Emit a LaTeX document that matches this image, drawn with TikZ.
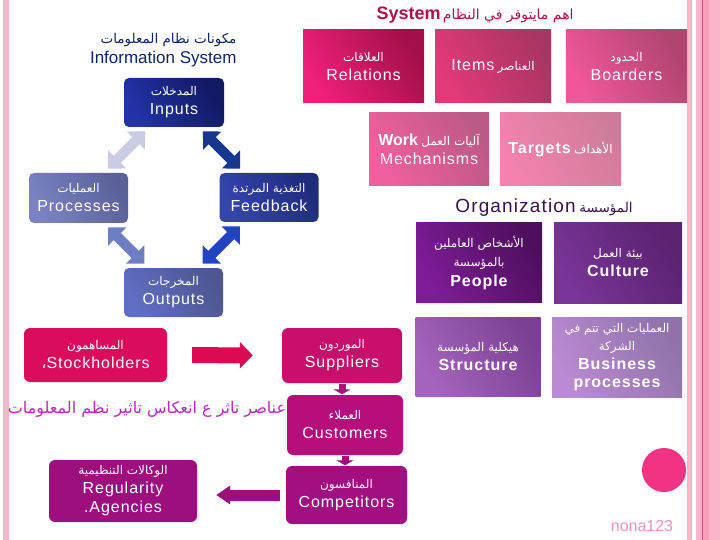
\documentclass[tikz,border=0pt]{standalone}
\usepackage{fontspec}
\setmainfont{Liberation Sans}
\newfontfamily\arfont[Script=Arabic]{DejaVu Sans}
\newfontfamily\enfont[LetterSpace=6]{Liberation Sans}
\TeXXeTstate=1
\usetikzlibrary{arrows.meta}
\newcommand\AR[1]{\mbox{\arfont\beginR #1\endR}}
\newcommand\EN[1]{{\enfont\fontsize{16}{19}\selectfont #1}}
\newcommand\ENB[1]{{\enfont\bfseries\fontsize{16}{19}\selectfont #1}}
\definecolor{stripe}{HTML}{FBB4C9}
\definecolor{stripedark}{HTML}{D0507E}
\definecolor{navytxt}{HTML}{0D2566}
\definecolor{crimsontxt}{HTML}{B0104E}
\definecolor{orgtxt}{HTML}{3A1050}
\definecolor{magtxt}{HTML}{B828C0}
\definecolor{nonatxt}{HTML}{E596B8}
\definecolor{dotpink}{HTML}{F23282}
\definecolor{arrLight}{HTML}{C9CCE2}
\definecolor{arrNavy}{HTML}{16378F}
\definecolor{arrMid}{HTML}{6E7EC2}
\definecolor{arrBlue}{HTML}{2244C4}
\definecolor{redarr}{HTML}{DC0A55}
\definecolor{magarr}{HTML}{B0107A}
\definecolor{purparr}{HTML}{9C0F7C}
\definecolor{relA}{HTML}{F0207A}\definecolor{relB}{HTML}{A31049}
\definecolor{itA}{HTML}{E23A78}\definecolor{itB}{HTML}{A93563}
\definecolor{boA}{HTML}{F0579A}\definecolor{boB}{HTML}{B0456F}
\definecolor{woA}{HTML}{F0609E}\definecolor{woB}{HTML}{BC5A86}
\definecolor{taA}{HTML}{F383AE}\definecolor{taB}{HTML}{CF7C9C}
\definecolor{peA}{HTML}{7E1C98}\definecolor{peB}{HTML}{4E0F5E}
\definecolor{cuA}{HTML}{7A3598}\definecolor{cuB}{HTML}{5A2270}
\definecolor{stA}{HTML}{A564BE}\definecolor{stB}{HTML}{7A4192}
\definecolor{buA}{HTML}{BA8AD2}\definecolor{buB}{HTML}{9173AA}
\definecolor{inA}{HTML}{2233A8}\definecolor{inB}{HTML}{111A62}
\definecolor{prA}{HTML}{7A82C2}\definecolor{prB}{HTML}{5A6198}
\definecolor{fbA}{HTML}{3545AC}\definecolor{fbB}{HTML}{1F2C7C}
\definecolor{ouA}{HTML}{5F6EC4}\definecolor{ouB}{HTML}{4E5790}
\definecolor{stockc}{HTML}{DC0C5C}
\definecolor{suppc}{HTML}{C90F6C}
\definecolor{custc}{HTML}{B60E7B}
\definecolor{compc}{HTML}{A20F80}
\definecolor{regc}{HTML}{9E0F7E}
\begin{document}
\begin{tikzpicture}[x=1pt,y=-1pt,
  box/.style={draw=none, align=center, text=white, inner sep=2pt,
    font=\fontsize{12}{19}\selectfont},
  gbox/.style n args={4}{box, minimum width=#1, minimum height=#2,
    left color=#3, right color=#4, shading angle=120},
  rbox/.style n args={4}{box, rounded corners=5pt, minimum width=#1, minimum height=#2,
    left color=#3, right color=#4, shading angle=120},
  fbox/.style n args={3}{box, rounded corners=6pt, minimum width=#1, minimum height=#2, fill=#3},
  dblarr/.style={line width=10pt, {Triangle[width=25pt,length=13pt]}-{Triangle[width=25pt,length=13pt]}},
]
\useasboundingbox (0,0) rectangle (720,540);
\fill[white] (0,0) rectangle (720,540);
% side stripes
\fill[stripe] (3,0) rectangle (9,540);
\fill[stripe] (687,0) rectangle (692,540);
\fill[stripe] (696,0) rectangle (720,540);
\fill[stripe!80!stripedark] (704,0) rectangle (709,540);
\draw[stripedark, line width=1pt] (702.5,0) -- (702.5,540);

% titles
\node[text=crimsontxt, font=\fontsize{14}{18}\selectfont] (ttl) at (475,15)
  {{\bfseries\fontsize{18}{18}\selectfont System}\,\AR{اهم مايتوفر في النظام}};
\node[text=navytxt, align=right, anchor=east, font=\fontsize{13.5}{20}\selectfont] (ist) at (240,50)
  {\AR{مكونات نظام المعلومات}\\{\fontsize{17}{18}\selectfont Information System}};
\node[text=orgtxt, font=\fontsize{13.5}{18}\selectfont] (org) at (544,208)
  {{\enfont\fontsize{19}{20}\selectfont Organization} \AR{المؤسسة}};

% top pink boxes
\node[gbox={121pt}{73pt}{relA}{relB}] (rel) at (363.5,66.5)
  {\AR{العلاقات}\\\EN{Relations}};
\node[gbox={116pt}{73pt}{itA}{itB}] (items) at (493,66.5)
  {\EN{Items} \AR{العناصر}};
\node[gbox={121pt}{73pt}{boA}{boB}] (boar) at (626.5,66.5)
  {\AR{الحدود}\\\EN{Boarders}};
\node[gbox={120pt}{73pt}{woA}{woB}] (work) at (429,149.5)
  {{\bfseries\fontsize{16}{18}\selectfont Work}\ \AR{آليات العمل}\\\EN{Mechanisms}};
\node[gbox={121pt}{73pt}{taA}{taB}] (targ) at (560.5,149.5)
  {\ENB{Targets} \AR{الأهداف}};

% purple boxes
\node[gbox={126pt}{79pt}{peA}{peB}] (people) at (479,262.5)
  {\AR{الأشخاص العاملين}\\\AR{بالمؤسسة}\\[1pt]\ENB{People}};
\node[gbox={128pt}{80pt}{cuA}{cuB}] (cult) at (618,263)
  {\AR{بيئة العمل}\\\ENB{Culture}};
\node[gbox={125pt}{79pt}{stA}{stB}] (struct) at (478,356.5)
  {\AR{هيكلية المؤسسة}\\\ENB{Structure}};
\node[gbox={130pt}{80pt}{buA}{buB}, font=\fontsize{12}{18}\selectfont] (bus) at (617,357)
  {\AR{العمليات التي تتم في}\\\AR{الشركة}\\[1pt]\ENB{Business}\\\ENB{processes}};

% navy cycle
\node[rbox={100pt}{49pt}{inA}{inB}] (inp) at (174,102.5)
  {\AR{المدخلات}\\\EN{Inputs}};
\node[rbox={99pt}{50pt}{prA}{prB}] (proc) at (78.5,198)
  {\AR{العمليات}\\\EN{Processes}};
\node[rbox={99pt}{49pt}{fbA}{fbB}] (fb) at (269,197.5)
  {\AR{التغذية المرتدة}\\\EN{Feedback}};
\node[rbox={99pt}{49pt}{ouA}{ouB}] (outp) at (173.5,292.5)
  {\AR{المخرجات}\\\EN{Outputs}};

\draw[dblarr, arrLight, shorten <=6pt, shorten >=6pt] (inp) -- (proc);
\draw[dblarr, arrNavy, shorten <=6pt, shorten >=6pt] (inp) -- (fb);
\draw[dblarr, arrMid, shorten <=6pt, shorten >=6pt] (proc) -- (outp);
\draw[dblarr, arrBlue, shorten <=6pt, shorten >=6pt] (fb) -- (outp);

% lower magenta boxes
\node[fbox={143pt}{54pt}{stockc}] (stock) at (95.5,355)
  {\AR{المساهمون}\\\EN{\AR{،}Stockholders}};
\node[fbox={120pt}{55pt}{suppc}] (supp) at (342,355.5)
  {\AR{الموردون}\\\EN{Suppliers}};
\node[fbox={116pt}{60pt}{custc}] (cust) at (345,425)
  {\AR{العملاء}\\\EN{Customers}};
\node[fbox={121pt}{58pt}{compc}] (comp) at (346.5,495)
  {\AR{المنافسون}\\\EN{Competitors}};
\node[fbox={148pt}{62pt}{regc}] (reg) at (123,491)
  {\AR{الوكالات التنظيمية}\\\EN{Regularity}\\\EN{.Agencies}};

\draw[redarr, line width=16pt, -{Triangle[width=26pt,length=13pt]}, shorten <=25pt, shorten >=29pt] (stock) -- (supp);
\draw[magarr, line width=7pt, -{Triangle[width=17pt,length=5pt]}, shorten <=0.5pt, shorten >=0.5pt] (supp) -- (supp.south |- cust.north);
\draw[purparr, line width=7pt, -{Triangle[width=17pt,length=5pt]}, shorten <=0.5pt, shorten >=0.5pt] (cust) -- (cust.south |- comp.north);
\draw[purparr, line width=11pt, -{Triangle[width=18pt,length=14pt]}, shorten <=6pt, shorten >=19pt] (comp.west) -- (comp.west -| reg.east);

\node[text=magtxt, font=\fontsize{16}{18}\selectfont] (note) at (147,409)
  {\AR{عناصر تاثر ع انعكاس تاثير نظم المعلومات}};

\fill[dotpink] (664,470) circle (22pt);
\node[text=nonatxt, font=\fontsize{16}{18}\selectfont] (nona) at (642,526) {nona123};
\end{tikzpicture}
\end{document}
